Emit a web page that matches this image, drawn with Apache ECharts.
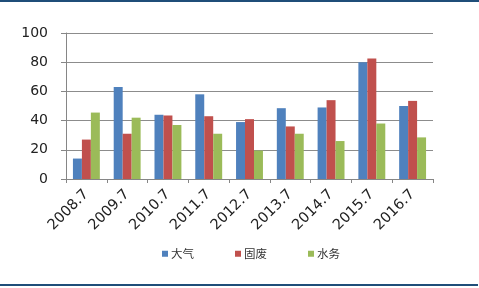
<!DOCTYPE html>
<html><head><meta charset="utf-8">
<script src="https://cdn.jsdelivr.net/npm/echarts@6/dist/echarts.min.js"></script>
<style>html,body{margin:0;padding:0;background:#fff}#c{width:479px;height:288px}</style>
</head><body><div id="c"></div>
<script>
const categories = ['2008.7','2009.7','2010.7','2011.7','2012.7','2013.7','2014.7','2015.7','2016.7'];
const seriesNames = ['大气','固废','水务'];
const daqi = [14, 63, 44, 58, 39, 48.5, 49, 80, 50];
const gufei = [27, 31, 43.5, 43, 41, 36, 54, 82.5, 53.5];
const shuiwu = [45.5, 42, 37, 31, 19.5, 31, 26, 38, 28.5];
const yTicks = [0, 20, 40, 60, 80, 100];
const colors = ['#4F81BD', '#C0504D', '#9BBB59'];

const chart = echarts.init(document.getElementById('c'), null, {renderer: 'canvas'});
const mk = (name, data, i) => ({
  name, type: 'bar', data, barGap: '0%', barCategoryGap: '34%',
  itemStyle: {color: colors[i]}
});
chart.setOption({
  animation: false,
  textStyle: {fontFamily: 'DejaVu Sans'},
  grid: {left: 66, right: 46, top: 33, bottom: 109, containLabel: false},
  xAxis: {
    type: 'category', data: categories,
    axisLine: {lineStyle: {color: '#868686'}},
    axisTick: {show: true, length: 4, lineStyle: {color: '#868686'}},
    axisLabel: {rotate: 45, color: '#222', fontSize: 14.5, margin: 13, interval: 0, fontFamily: 'DejaVu Sans'}
  },
  yAxis: {
    type: 'value', min: yTicks[0], max: yTicks[yTicks.length - 1], interval: 20,
    axisLine: {show: true, lineStyle: {color: '#868686'}},
    axisTick: {show: true, length: 5, lineStyle: {color: '#868686'}},
    splitLine: {lineStyle: {color: '#8c8c8c', width: 1}},
    axisLabel: {color: '#222', fontSize: 14, margin: 18, fontFamily: 'DejaVu Sans'}
  },
  legend: {
    data: seriesNames, top: 243, left: 157,
    itemWidth: 6, itemHeight: 6, itemGap: 41, icon: 'rect',
    textStyle: {fontSize: 11.5, color: '#333', fontFamily: 'Noto Sans CJK SC', padding: [0, 0, 0, -2]}
  },
  graphic: [
    {type: 'rect', shape: {x: 0, y: 0, width: 479, height: 2}, style: {fill: '#1F4E79'}},
    {type: 'rect', shape: {x: 0, y: 284, width: 478, height: 2}, style: {fill: '#1F4E79'}}
  ],
  series: [mk(seriesNames[0], daqi, 0), mk(seriesNames[1], gufei, 1), mk(seriesNames[2], shuiwu, 2)]
});
</script></body></html>
